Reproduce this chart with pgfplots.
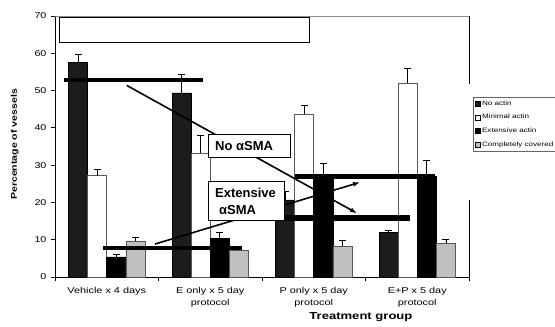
\documentclass[border=0pt]{standalone}
\usepackage{fontspec}
\setmainfont{Liberation Sans}
\newfontfamily\cf[FakeStretch=1.28]{Liberation Sans}
\usepackage{pgfplots}
\pgfplotsset{compat=1.18}
\usetikzlibrary{arrows.meta}
\definecolor{noact}{HTML}{1C1C1C}
\definecolor{compl}{HTML}{C0C0C0}
\pgfplotsset{
  mybar/.style={ybar, bar width=0.1845, bar shift=0pt, line width=0.6pt,
    error bars/y dir=plus, error bars/y explicit,
    error bars/error bar style={line width=0.7pt, black},
    error bars/error mark options={rotate=90, mark size=3.5pt, line width=0.7pt, black}},
  myleg/.style={legend image code/.code={\draw[##1, line width=0.5pt, draw=black] (0pt,-2.4pt) rectangle (4.8pt,2.4pt);}}
}
\begin{document}
\begin{tikzpicture}
\begin{axis}[
  at={(0pt,0pt)}, anchor=south west,
  scale only axis, width=414pt, height=261pt,
  xmin=-0.5, xmax=3.5, ymin=0, ymax=70,
  axis x line*=bottom, axis y line*=left,
  axis line style={line width=0.8pt, black},
  clip=false,
  tick align=outside,
  major tick length=4pt,
  tick style={line width=0.8pt, black},
  ytick={0,10,...,70},
  xtick={0,1,2,3},
  xtick style={draw=none},
  extra x ticks={-0.5,0.5,1.5,2.5,3.5},
  extra x tick labels={},
  extra x tick style={xtick style={draw=black}},
  xticklabels={Vehicle x 4 days, E only x 5 day\\protocol, P only x 5 day\\protocol, E+P x 5 day\\protocol},
  /pgf/number format/assume math mode=true,
  y tick label style={font=\cf\fontsize{8.4}{10}\selectfont, xshift=-1pt},
  x tick label style={align=center, font=\cf\fontsize{8.5}{11.9}\selectfont, yshift=-3pt},
  xlabel={Treatment group},
  xlabel style={at={(axis description cs:0.739,-0.152)}, anchor=center, font=\cf\bfseries\fontsize{10.2}{12}\selectfont},
  ylabel={Percentage of vessels},
  ylabel style={at={(axis description cs:-0.097,0.508)}, anchor=center, font=\cf\bfseries\fontsize{8.25}{10}\selectfont},
  legend style={at={(axis description cs:1.0097,0.6897)}, anchor=north west, draw=black!60, line width=0.6pt,
    font=\cf\fontsize{6.3}{7.5}\selectfont, row sep=4.6pt, inner sep=2pt,
    nodes={inner sep=1.5pt, text height=4.6pt, text depth=1.4pt}},
  legend cell align=left,
]
\addplot[mybar, fill=noact, draw=black, myleg] coordinates {
  (-0.27675,57.5) +- (0,2.2)
  (0.72325,49.4) +- (0,4.9)
  (1.72325,20.7) +- (0,2.4)
  (2.72325,11.9) +- (0,0.7)
};
\addlegendentry{No actin}
\addplot[mybar, fill=white, draw=black!65, myleg] coordinates {
  (-0.09225,27.2) +- (0,1.8)
  (0.90775,33.2) +- (0,4.8)
  (1.90775,43.7) +- (0,2.3)
  (2.90775,52.0) +- (0,4.0)
};
\addlegendentry{Minimal actin}
\addplot[mybar, fill=black, draw=black, myleg] coordinates {
  (0.09225,5.4) +- (0,0.8)
  (1.09225,10.4) +- (0,1.7)
  (2.09225,27.0) +- (0,3.5)
  (3.09225,26.9) +- (0,4.5)
};
\addlegendentry{Extensive actin}
\addplot[mybar, fill=compl, draw=black!65, myleg] coordinates {
  (0.27675,9.7) +- (0,1.0)
  (1.27675,7.2) +- (0,0.8)
  (2.27675,8.3) +- (0,1.4)
  (3.27675,9.1) +- (0,1.1)
};
\addlegendentry{Completely covered}
% frame remnants
\draw[black!45, line width=0.8pt] (axis cs:-0.5,70) -- (axis cs:3.5,70);
\draw[black, line width=0.8pt] (axis cs:3.5,70) -- (axis cs:3.5,51.7);
\draw[black, line width=0.8pt] (axis cs:3.5,20.6) -- (axis cs:3.5,0);
% top empty box
\draw[black, line width=0.7pt, fill=white] (axis cs:-0.461,69.65) rectangle (axis cs:1.954,62.95);
% thick lines
\draw[black, line width=4.7pt] (axis cs:-0.413,52.8) -- (axis cs:0.930,52.8);
\draw[black, line width=4.7pt] (axis cs:-0.036,7.8) -- (axis cs:1.307,7.8);
\draw[black, line width=5.2pt] (axis cs:1.597,15.8) -- (axis cs:2.930,15.8);
\draw[black, line width=5.2pt] (axis cs:1.819,27.0) -- (axis cs:3.171,27.0);
% arrows
\draw[black, line width=1.6pt, -{Latex[length=7pt,width=5pt]}] (axis cs:0.193,51.4) -- (axis cs:2.418,17.1);
\draw[black, line width=1.6pt, -{Latex[length=7pt,width=5pt]}] (axis cs:0.466,8.84) -- (axis cs:2.447,25.4);
% boxes
\draw[black, line width=0.8pt, fill=white] (axis cs:0.978,38.3) rectangle (axis cs:1.771,32.1);
\node[anchor=west, inner sep=0pt, font=\bfseries\fontsize{13}{15}\selectfont] at (axis cs:1.046,35.1) {No αSMA};
\draw[black, line width=0.8pt, fill=white] (axis cs:0.978,25.7) rectangle (axis cs:1.712,15.3);
\node[anchor=west, inner sep=0pt, font=\bfseries\fontsize{13}{15}\selectfont] at (axis cs:1.046,22.6) {Extensive};
\node[anchor=west, inner sep=0pt, font=\bfseries\fontsize{13}{15}\selectfont] at (axis cs:1.085,17.9) {αSMA};
\end{axis}
\pgfresetboundingbox
\useasboundingbox (-55pt,-50pt) rectangle (500pt,277pt);
\end{tikzpicture}
\end{document}
